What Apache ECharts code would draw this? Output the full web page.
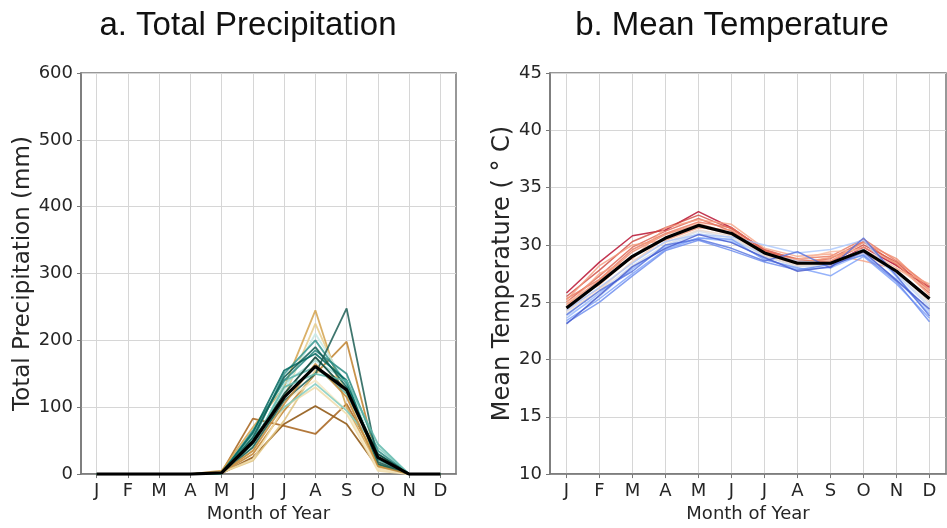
<!DOCTYPE html>
<html><head><meta charset="utf-8">
<script src="https://cdn.jsdelivr.net/npm/echarts@6/dist/echarts.min.js"></script>
<style>html,body{margin:0;padding:0;background:#fff}#c{width:947px;height:528px}</style>
</head><body><div id="c"></div>
<script>
const months = ['J','F','M','A','M','J','J','A','S','O','N','D'];
const precipTicks = [0,100,200,300,400,500,600];
const tempTicks = [10,15,20,25,30,35,40,45];

// Precipitation ensemble members (mm) and their colours (brown -> teal)
const precipColors = ['#8c510a','#a6611a','#bf812d','#d4a24c','#dfc27d','#e6cc8c','#f0dca8','#f6e8c3',
  '#c7eae5','#a4dcd3','#80cdc1','#5ab4ac','#35978f','#2a8a82','#01665e','#0b5c52','#1d5e55','#003c30','#c48a3a','#5fb8ab'];
const precipMembers = [
  [0,0,0,0,1,25,75,102,75,10,0,0],
  [0,0,0,0,3,83,72,60,105,20,0,0],
  [0,0,0,0,2,30,95,150,198,15,0,0],
  [0,0,0,0,5,70,130,245,100,12,0,0],
  [0,0,0,0,2,20,80,155,140,10,0,0],
  [0,0,0,0,3,35,115,225,120,8,0,0],
  [0,0,0,0,2,22,100,130,90,5,0,0],
  [0,0,0,0,1,40,110,140,95,8,0,0],
  [0,0,0,0,1,45,125,210,135,20,0,0],
  [0,0,0,0,2,40,135,170,140,25,0,0],
  [0,0,0,0,1,55,100,135,95,40,0,0],
  [0,0,0,0,2,60,140,160,120,30,0,0],
  [0,0,0,0,1,50,150,200,135,22,0,0],
  [0,0,0,0,1,65,140,185,150,35,0,0],
  [0,0,0,0,2,62,155,180,140,15,0,0],
  [0,0,0,0,1,55,145,190,130,25,0,0],
  [0,0,0,0,2,40,110,150,248,18,0,0],
  [0,0,0,0,1,50,120,175,125,30,0,0],
  [0,0,0,0,2,35,105,165,115,12,0,0],
  [0,0,0,0,1,45,130,150,140,45,0,0]
];
const precipMean = [0,0,0,0,2,48,115,161,126,25,0,0];

// Temperature ensemble members (deg C) and their colours (red -> blue)
const tempColors = ['#b40426','#d0473d','#dd5f4b','#e7745b','#f08a6c','#f49a7b','#f6a385','#f7b89c','#f5c4ac',
  '#ead4c8','#d5dbe5','#c0d4f5','#aac7fd','#93b5fe','#7b9ff9','#6788ee','#5470de','#4358cb'];
const tempMembers = [
  [25.8,28.5,30.8,31.3,32.9,31.5,29.5,28.6,28.2,29.8,28.2,26.3],
  [25.5,27.8,30.3,31.5,32.6,31.4,29.6,28.7,28.5,30.0,28.5,26.0],
  [25.0,27.3,29.8,31.2,32.3,31.2,29.4,28.5,28.8,30.3,28.3,25.8],
  [25.3,27.0,29.6,31.0,32.0,31.5,29.5,28.8,29.0,30.5,28.6,26.4],
  [24.8,26.9,29.4,30.9,31.8,31.0,29.4,28.6,28.6,30.2,28.8,26.1],
  [25.2,28.2,30.0,30.4,31.5,31.3,29.3,28.4,28.9,29.8,28.4,25.6],
  [24.6,27.5,28.8,31.5,32.2,31.8,29.7,29.0,29.2,28.6,27.9,26.6],
  [25.0,26.5,29.0,30.5,31.9,31.0,29.2,28.7,29.4,29.6,28.0,26.0],
  [24.4,26.2,28.5,30.6,31.6,30.9,29.1,28.3,28.5,29.3,27.6,25.4],
  [24.2,26.0,28.6,30.2,31.3,30.8,29.0,28.2,28.3,29.3,27.8,25.0],
  [24.0,25.9,28.2,30.0,31.2,30.6,29.0,28.1,28.2,29.6,27.5,24.8],
  [23.8,25.5,28.0,29.9,31.0,30.4,29.2,28.6,28.4,29.6,27.4,24.6],
  [24.3,26.3,28.4,30.3,30.9,30.7,30.0,29.3,29.6,30.4,27.2,24.2],
  [23.6,25.8,27.9,29.8,30.6,30.3,28.8,27.9,28.0,29.2,27.0,24.0],
  [23.4,25.3,27.5,29.6,30.6,30.5,28.7,28.0,27.3,29.0,26.6,23.6],
  [23.2,25.0,27.3,29.5,30.4,29.5,28.5,27.8,28.3,29.1,26.8,23.3],
  [23.9,26.0,27.7,30.0,30.5,29.7,28.6,29.4,28.0,30.6,27.3,23.8],
  [23.1,25.6,28.1,29.7,30.9,30.2,28.9,27.7,28.1,29.4,26.9,24.4]
];
const tempMean = [24.5,26.7,29.0,30.6,31.7,31.0,29.3,28.4,28.4,29.5,27.7,25.3];

const chart = echarts.init(document.getElementById('c'), null, {renderer:'canvas'});
const F = 'DejaVu Sans';
function xAxis(gi){
  return {type:'category', gridIndex:gi, data:months, boundaryGap:true,
    name:'Month of Year', nameLocation:'middle', nameGap:27,
    nameTextStyle:{fontFamily:F, fontSize:18, color:'#262626'},
    axisLine:{lineStyle:{color:'#777', width:1.5}},
    axisTick:{show:true, alignWithLabel:true, length:4, lineStyle:{color:'#777'}},
    axisLabel:{fontFamily:F, fontSize:18, color:'#262626', margin:8, interval:0},
    splitLine:{show:true, alignWithLabel:true, lineStyle:{color:'#d6d6d6', width:1}}};
}
function yAxis(gi, ticks, name, gap, nameSize){
  return {type:'value', gridIndex:gi, min:ticks[0], max:ticks[ticks.length-1], interval:ticks[1]-ticks[0],
    name:name, nameLocation:'middle', nameGap:gap,
    nameTextStyle:{fontFamily:F, fontSize:nameSize, color:'#262626'},
    axisLine:{show:true, lineStyle:{color:'#777', width:1.5}},
    axisTick:{show:true, length:4, lineStyle:{color:'#777'}},
    axisLabel:{fontFamily:F, fontSize:18, color:'#262626', margin:8},
    splitLine:{show:true, lineStyle:{color:'#d6d6d6', width:1}}};
}
const series = [];
precipMembers.forEach((d,i)=>series.push({type:'line', xAxisIndex:0, yAxisIndex:0, data:d, symbol:'none',
  lineStyle:{color:precipColors[i], width:1.8, opacity:0.85}, silent:true}));
series.push({type:'line', xAxisIndex:0, yAxisIndex:0, data:precipMean, symbol:'none', lineStyle:{color:'#000', width:3.2}, z:5});
tempMembers.forEach((d,i)=>series.push({type:'line', xAxisIndex:1, yAxisIndex:1, data:d, symbol:'none',
  lineStyle:{color:tempColors[i], width:1.5, opacity:0.8}, silent:true}));
series.push({type:'line', xAxisIndex:1, yAxisIndex:1, data:tempMean, symbol:'none', lineStyle:{color:'#000', width:3.2}, z:5});

chart.setOption({
  animation:false,
  title:[
    {text:'a. Total Precipitation', left:243, top:4, textAlign:'center',
      textStyle:{fontFamily:'Liberation Sans', fontWeight:'normal', fontSize:33, color:'#111'}},
    {text:'b. Mean Temperature', left:727, top:4, textAlign:'center',
      textStyle:{fontFamily:'Liberation Sans', fontWeight:'normal', fontSize:33, color:'#111'}}
  ],
  grid:[
    {left:81, top:73, width:375, height:408, show:true, borderColor:'#777', borderWidth:1.5, containLabel:false},
    {left:550, top:73, width:396, height:408, show:true, borderColor:'#777', borderWidth:1.5, containLabel:false}
  ],
  xAxis:[xAxis(0), xAxis(1)],
  yAxis:[yAxis(0, precipTicks, 'Total Precipitation (mm)', 45, 23), yAxis(1, tempTicks, 'Mean Temperature ( ° C)', 34, 24)],
  series:series
});
</script></body></html>
